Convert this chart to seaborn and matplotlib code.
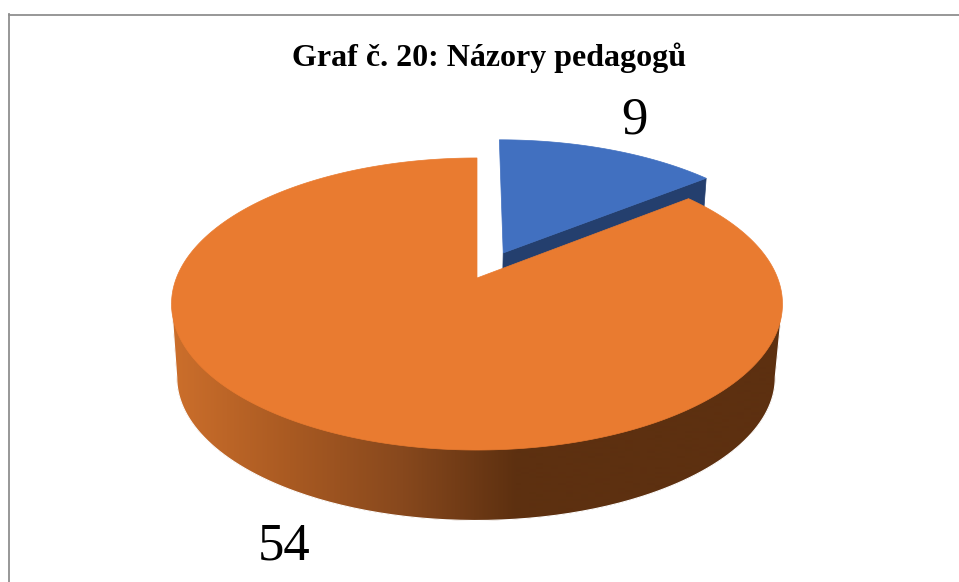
import numpy as np
import seaborn as sns
import matplotlib.pyplot as plt

title = "Graf č. 20: Názory pedagogů"
values = [9, 54]
top_colors = ["#4170c0", "#e97b30"]
blue_wall = "#243f6e"
wall_stops = ["#cb6e2b", "#a95a22", "#87481d", "#5d3010"]

sns.set_theme(style="white")
plt.rcParams["font.family"] = ["Liberation Serif", "DejaVu Serif"]

W, H = 959, 582
LEFT, TOP = 8.5, 14.5
fig = plt.figure(figsize=(W / 100, H / 100), dpi=100, facecolor="white")
ax = fig.add_axes([LEFT / W, 0, (W - LEFT) / W, 1 - TOP / H])
ax.set_xticks([])
ax.set_yticks([])
sns.despine(ax=ax, top=False, left=False, right=True, bottom=True)
for s in ["left", "top"]:
    ax.spines[s].set_color("#8f8f8f")
    ax.spines[s].set_linewidth(1.3)


# disc coordinates to the picture, with perspective
def top_face(u, v):
    w = 1 + 0.178 * v
    return 477 + 300.6 * u / w, 278 - 141.4 * v / w


def bottom_face(u, v):
    w = 1 + 0.178 * v
    return 476 + 294.5 * u / w, 352 + 138.5 * (-v) / w


def wedge(start, end, du=0.0, dv=0.0, n=200):
    a = np.radians(np.linspace(start, end, n))
    return np.sin(a) + du, np.cos(a) + dv


angles = np.cumsum([0] + values) / sum(values) * 360
blue_start, blue_end, orange_end = angles

# blue slice, pulled out of the pie
du, dv = 0.09, 0.183
u, v = wedge(blue_start, blue_end, du, dv)
ax.fill(*zip(top_face(du, dv), top_face(u[-1], v[-1]),
             bottom_face(u[-1], v[-1]), bottom_face(du, dv)),
        color=blue_wall, lw=0.5)
x, y = top_face(np.r_[du, u], np.r_[dv, v])
ax.fill(x, y, color=top_colors[0], lw=0.5)

# orange wall: a sideways gradient clipped to the wall outline
u, v = wedge(blue_end, orange_end, n=420)
xt, yt = top_face(u, v)
xb, yb = bottom_face(u, v)
tr, tl = np.argmax(xt), np.argmin(xt)
br, bl = np.argmax(xb), np.argmin(xb)
wall_x = np.r_[xt[tr], xb[br:bl + 1], xt[tl]]
wall_y = np.r_[yt[tr], yb[br:bl + 1], yt[tl]]
outline = ax.fill(wall_x, wall_y, color=wall_stops[-1], lw=0)[0]
shades = np.array(sns.blend_palette(wall_stops, n_colors=256))
gx = np.arange(0, W)
band = shades[(np.clip((gx - 175) / (515 - 175), 0, 1) * 255).astype(int)][np.newaxis, :, :]
img = ax.imshow(band, extent=(0, W, H, 0), aspect="auto", zorder=1.5, interpolation="bilinear")
img.set_clip_path(outline)
# soft white edge so the clipped picture does not look jagged
ax.plot(wall_x, wall_y, color="white", lw=0.8, zorder=1.6)

# orange top
x, y = top_face(np.r_[0, u], np.r_[0, v])
ax.fill(x, y, color=top_colors[1], lw=0.5, zorder=2)

ax.set_xlim(LEFT, W)
ax.set_ylim(H, TOP)

ax.text(489, 58, title, ha="center", va="center", fontsize=23,
        fontweight="bold", color="black", zorder=3)
ax.text(634, 121, str(values[0]), ha="center", va="center", fontsize=38, color="black", zorder=3)
ax.text(284, 547, str(values[1]), ha="center", va="center", fontsize=38, color="black", zorder=3)

fig.savefig("out.png", dpi=100)
